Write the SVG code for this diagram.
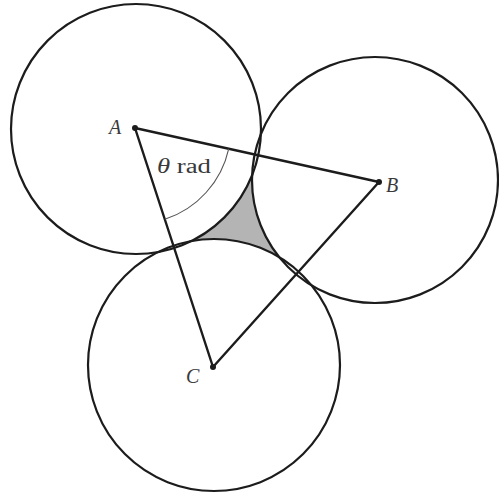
<svg xmlns="http://www.w3.org/2000/svg" width="499" height="495" viewBox="0 0 499 495">
<style>
.fill{fill:#ffffff;stroke:none}
.ring{fill:none;stroke:#1c1c1c;stroke-width:2.2}
.side{stroke:#1c1c1c;stroke-width:2.4;stroke-linecap:round;fill:none}
.dot{fill:#1c1c1c}
.lbl{font-family:"Liberation Serif","DejaVu Serif",serif;font-style:italic;font-size:20px;fill:#3a3a3a}
</style>
<rect width="499" height="495" fill="#ffffff"/>
<g id="shaded-region">
<polygon points="136,129 375,180 214,365" fill="#b4b4b4"/>
<circle class="fill" cx="136" cy="129" r="125"/>
<circle class="fill" cx="375" cy="180" r="123"/>
<circle class="fill" cx="214" cy="365" r="126"/>
</g>
<g id="circle-A"><circle class="ring" cx="136" cy="129" r="125"/></g>
<g id="circle-B"><circle class="ring" cx="375" cy="180" r="123"/></g>
<g id="circle-C"><circle class="ring" cx="214" cy="365" r="126"/></g>
<g id="connectors">
<line class="side" x1="135" y1="128" x2="379" y2="182"/>
<line class="side" x1="135" y1="128" x2="213" y2="367"/>
<line class="side" x1="213" y1="367" x2="379" y2="182"/>
<path d="M228.7,148.8 A96,96 0 0 1 164.9,219.3" fill="none" stroke="#555" stroke-width="1.1"/>
</g>
<g id="node-A"><circle class="dot" cx="135" cy="128" r="3"/><text class="lbl" x="109" y="134">A</text></g>
<g id="node-B"><circle class="dot" cx="379" cy="182" r="3"/><text class="lbl" x="386" y="192">B</text></g>
<g id="node-C"><circle class="dot" cx="213" cy="367" r="3"/><text class="lbl" x="186" y="383">C</text></g>
<g id="angle-label"><text x="157" y="173" font-family="Liberation Serif, DejaVu Serif, serif" font-size="20" fill="#3a3a3a" textLength="54" lengthAdjust="spacingAndGlyphs"><tspan font-style="italic">θ</tspan> rad</text></g>
</svg>
